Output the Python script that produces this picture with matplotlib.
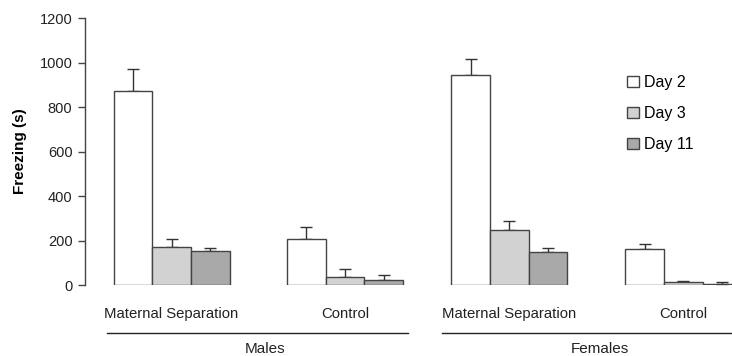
import matplotlib
matplotlib.use("Agg")
import matplotlib.pyplot as plt
import matplotlib.transforms as mtransforms
import numpy as np

plt.rcParams['font.family'] = ['Liberation Sans', 'DejaVu Sans']

groups = ["Maternal Separation", "Control", "Maternal Separation", "Control"]
sexes = ["Males", "Females"]
days = ["Day 2", "Day 3", "Day 11"]
day2 = [873, 208, 945, 162]
day3 = [172, 35, 247, 12]
day11 = [153, 21, 148, 3]
err2 = [96, 51, 69, 22]
err3 = [36, 35, 42, 6]
err11 = [15, 25, 20, 9]
yticks = [0, 200, 400, 600, 800, 1000, 1200]

colors = ["white", "#d2d2d2", "#a9a9a9"]
edge = "#444444"

fig = plt.figure(figsize=(7.32, 3.56), dpi=100)
ax = fig.add_axes([0.116, 0.1994, 0.911, 0.75])

group_pos = np.array([0, 4.48, 8.73, 13.23])
width = 1.0
series = [day2, day3, day11]
errs = [err2, err3, err11]
for i, (vals, e) in enumerate(zip(series, errs)):
    x = group_pos + i * width
    ax.bar(x, vals, width=width, color=colors[i], edgecolor=edge, linewidth=1.0,
           label=days[i], zorder=2)
    ax.errorbar(x, vals, yerr=[np.zeros(len(e)), e], fmt="none", ecolor="#333333",
                elinewidth=1.0, capsize=4, capthick=1.0, zorder=1)

ax.set_xlim(-1.24, 16)
ax.set_ylim(0, 1200)
ax.set_yticks(yticks)
ax.set_yticklabels([str(t) for t in yticks], fontsize=10.5, color="#222222")
ax.tick_params(axis='y', length=5, width=1, color=edge, pad=4)
ax.set_xticks([])
for s in ["top", "right", "bottom"]:
    ax.spines[s].set_visible(False)
ax.spines["left"].set_color(edge)
ax.spines["left"].set_linewidth(1)
ax.set_ylabel("Freezing (s)", fontsize=11, fontweight="bold", labelpad=9)

trans = mtransforms.blended_transform_factory(ax.transData, ax.transAxes)
centers = group_pos + width
for c, g in zip(centers, groups):
    ax.text(c, -0.11, g, transform=trans, ha="center", va="center",
            fontsize=10.7, color="#222222", clip_on=False)

sex_spans = [(-0.67, 7.1), (7.98, 16.5)]
sex_label_x = [3.41, 12.07]
for (x0, x1), lx, s in zip(sex_spans, sex_label_x, sexes):
    ax.plot([x0, x1], [-0.18, -0.18], transform=trans, color="#222222",
            linewidth=1.0, clip_on=False)
    ax.text(lx, -0.24, s, transform=trans,
            ha="center", va="center", fontsize=11, color="#222222")

leg = ax.legend(loc="upper left", bbox_to_anchor=(0.803, 0.81), frameon=False,
                fontsize=11.5, handlelength=0.75, handleheight=0.75,
                handletextpad=0.3, labelspacing=1.0, borderaxespad=0)
for h in leg.legend_handles:
    h.set_edgecolor(edge)

fig.savefig("out.png", dpi=100)
